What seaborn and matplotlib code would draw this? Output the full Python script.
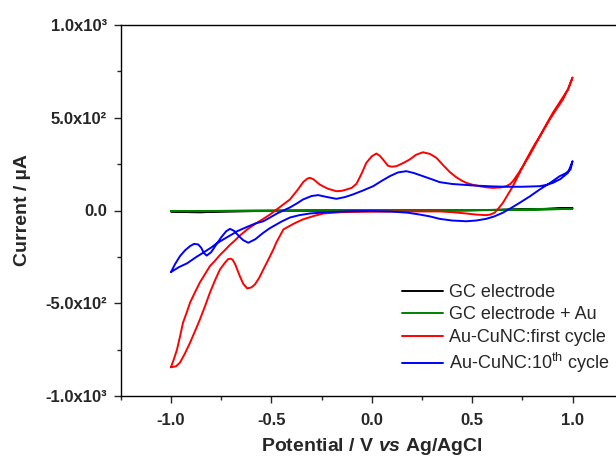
import matplotlib
matplotlib.use("Agg")
import matplotlib.pyplot as plt
import seaborn as sns
import pandas as pd
from matplotlib.ticker import MultipleLocator, FixedLocator, FixedFormatter

# ---------------- data ----------------
gc_x = [-1.0, -0.9, -0.85, -0.8, -0.6, -0.4, -0.2, 0.0, 0.2, 0.4, 0.6, 0.8, 0.9, 1.0,
        0.8, 0.5, 0.0, -0.5, -1.0]
gc_y = [-5, -9, -10, -7, -3, -2, -1, 0, 0, 1, 3, 7, 10, 13,
        6, 1, -1, -3, -5]

gcau_x = [-1.0, -0.9, -0.8, -0.6, -0.4, -0.2, 0.0, 0.2, 0.4, 0.6, 0.8, 0.9, 1.0,
          0.8, 0.5, 0.0, -0.5, -1.0]
gcau_y = [-3, -4, -3, -1, 0, 1, 2, 2, 2, 3, 5, 7, 9,
          5, 2, 1, -1, -3]

# Au-CuNC first cycle: forward branch then return branch
red_x = [-1.0, -0.985, -0.97, -0.955, -0.94, -0.92, -0.905, -0.88, -0.856, -0.83,
         -0.806, -0.78, -0.756, -0.73, -0.706, -0.68, -0.657, -0.62, -0.58, -0.54,
         -0.507, -0.48, -0.45, -0.408, -0.37, -0.34, -0.32, -0.308, -0.29, -0.259,
         -0.22, -0.176, -0.15, -0.126, -0.10, -0.076, -0.05, -0.027, 0.0, 0.023,
         0.04, 0.056, 0.081, 0.10, 0.123, 0.155, 0.189, 0.22, 0.255, 0.29,
         0.322, 0.355, 0.388, 0.42, 0.45, 0.471, 0.505, 0.537, 0.57, 0.604,
         0.64, 0.67, 0.69, 0.703, 0.73, 0.753, 0.79, 0.82, 0.855, 0.886,
         0.92, 0.952, 0.98, 1.0,
         0.99, 0.977, 0.94, 0.902, 0.87, 0.836, 0.80, 0.77, 0.735, 0.703,
         0.675, 0.653, 0.63, 0.612, 0.59, 0.57, 0.52, 0.47, 0.40, 0.338,
         0.25, 0.15, 0.05, -0.05, -0.15, -0.24, -0.29, -0.343, -0.39, -0.44,
         -0.458, -0.475, -0.49, -0.515, -0.54, -0.56, -0.582, -0.60, -0.62, -0.64,
         -0.657, -0.68, -0.693, -0.703, -0.715, -0.73, -0.756, -0.78, -0.806, -0.83,
         -0.856, -0.88, -0.905, -0.93, -0.955, -0.975, -1.0]
red_y = [-845, -800, -750, -680, -605, -545, -497, -440, -388, -342,
         -300, -270, -240, -212, -185, -160, -135, -102, -72, -45,
         -22, 0, 25, 59, 110, 155, 172, 176, 168, 140,
         118, 104, 106, 113, 122, 144, 200, 257, 292, 307,
         295, 275, 241, 236, 239, 255, 275, 300, 314, 305,
         284, 245, 208, 180, 160, 149, 138, 131, 125, 122,
         124, 131, 143, 158, 200, 239, 305, 365, 432, 490,
         547, 598, 660, 717,
         690, 652, 590, 527, 465, 400, 335, 275, 200, 131,
         80, 41, 10, -12, -22, -25, -22, -16, -9, -5,
         -5, -5, -6, -7, -9, -16, -30, -48, -72, -102,
         -138, -172, -210, -265, -318, -362, -399, -415, -420, -395,
         -354, -290, -265, -260, -262, -280, -318, -375, -443, -515,
         -588, -650, -713, -770, -820, -840, -845]

# Au-CuNC 10th cycle: forward branch then return branch
blue_x = [-1.0, -0.96, -0.92, -0.873, -0.84, -0.80, -0.773, -0.73, -0.69, -0.673,
          -0.62, -0.58, -0.54, -0.507, -0.47, -0.44, -0.408, -0.37, -0.343, -0.30,
          -0.267, -0.22, -0.176, -0.135, -0.095, -0.05, 0.007, 0.05, 0.09, 0.13,
          0.172, 0.21, 0.255, 0.30, 0.338, 0.40, 0.504, 0.60, 0.67, 0.75,
          0.836, 0.87, 0.902, 0.94, 0.977, 1.0,
          0.99, 0.965, 0.936, 0.89, 0.836, 0.79, 0.736, 0.695, 0.653, 0.61,
          0.57, 0.52, 0.471, 0.40, 0.338, 0.29, 0.24, 0.18, 0.10, 0.0,
          -0.10, -0.20, -0.308, -0.36, -0.408, -0.45, -0.507, -0.54, -0.58, -0.615,
          -0.64, -0.66, -0.685, -0.706, -0.725, -0.75, -0.775, -0.80, -0.822, -0.835,
          -0.85, -0.864, -0.885, -0.905, -0.93, -0.955, -0.98, -1.0]
blue_y = [-332, -305, -285, -250, -228, -200, -178, -150, -125, -113,
          -88, -70, -58, -38, -15, 0, 16, 40, 59, 78,
          83, 72, 63, 72, 86, 105, 131, 160, 185, 205,
          212, 202, 185, 168, 153, 143, 135, 130, 128, 128,
          131, 138, 149, 170, 203, 266,
          221, 200, 185, 150, 113, 78, 41, 14, -12, -32,
          -45, -54, -58, -54, -45, -32, -22, -12, -6, -3,
          -4, -8, -16, -25, -38, -60, -95, -120, -155, -174,
          -160, -140, -110, -99, -112, -145, -185, -225, -243, -230,
          -200, -183, -180, -192, -215, -246, -290, -332]

labels = ["GC electrode", "GC electrode + Au", "Au-CuNC:first cycle",
          "Au-CuNC:10$^{\\mathrm{th}}$ cycle"]
colors = ["#000000", "#008000", "#ff0000", "#0000ff"]

x_ticks = [-1.0, -0.5, 0.0, 0.5, 1.0]
x_tick_labels = ["-1.0", "-0.5", "0.0", "0.5", "1.0"]
y_ticks = [-1000, -500, 0, 500, 1000]
y_tick_labels = ["-1.0x10\u00b3", "-5.0x10\u00b2", "0.0", "5.0x10\u00b2", "1.0x10\u00b3"]

# ---------------- style ----------------
sns.set_style("ticks")
plt.rcParams["font.family"] = ["Liberation Sans", "DejaVu Sans"]
plt.rcParams["mathtext.fontset"] = "custom"
plt.rcParams["mathtext.rm"] = "Liberation Sans"
plt.rcParams["mathtext.it"] = "Liberation Sans:italic:bold"
plt.rcParams["mathtext.bf"] = "Liberation Sans:bold"

fig = plt.figure(figsize=(6.16, 4.59), dpi=100)
fig.patch.set_facecolor("white")
ax = fig.add_axes([120.75 / 616, 63 / 459, 502 / 616, 371 / 459])

curves = [(gc_x, gc_y), (gcau_x, gcau_y), (red_x, red_y), (blue_x, blue_y)]
for (xs, ys), lab, col in zip(curves, labels, colors):
    df = pd.DataFrame({"x": xs, "y": ys})
    sns.lineplot(data=df, x="x", y="y", sort=False, estimator=None, ax=ax,
                 color=col, linewidth=1.4, label=lab)

ax.set_xlim(-1.25, 1.25)
ax.set_ylim(-1000, 1000)
ax.xaxis.set_major_locator(FixedLocator(x_ticks))
ax.xaxis.set_major_formatter(FixedFormatter(x_tick_labels))
ax.yaxis.set_major_locator(FixedLocator(y_ticks))
ax.yaxis.set_major_formatter(FixedFormatter(y_tick_labels))
ax.xaxis.set_minor_locator(MultipleLocator(0.25))
ax.yaxis.set_minor_locator(MultipleLocator(250))
ax.tick_params(which="major", direction="out", length=5, width=1.0,
               labelsize=12, top=False, right=False)
ax.tick_params(axis="x", which="major", pad=7)
ax.tick_params(axis="y", which="major", pad=5)
ax.tick_params(which="minor", direction="out", length=3, width=1.0,
               top=False, right=False)
for lbl in ax.get_xticklabels() + ax.get_yticklabels():
    lbl.set_fontweight("bold")
for sp in ax.spines.values():
    sp.set_linewidth(1.0)
    sp.set_color("black")

ax.set_xlabel("Potential / V $vs$ Ag/AgCl", fontsize=14, fontweight="bold", labelpad=6)
ax.set_ylabel("Current / \u00b5A", fontsize=14, fontweight="bold", labelpad=10)

ax.legend(loc="upper left", bbox_to_anchor=(402 / 616, 1 - 284 / 459),
          bbox_transform=fig.transFigure, frameon=False, fontsize=13,
          handlelength=2.25, handletextpad=0.35, labelspacing=0.3,
          borderpad=0, borderaxespad=0)

fig.savefig("out.png", dpi=100, facecolor="white")
